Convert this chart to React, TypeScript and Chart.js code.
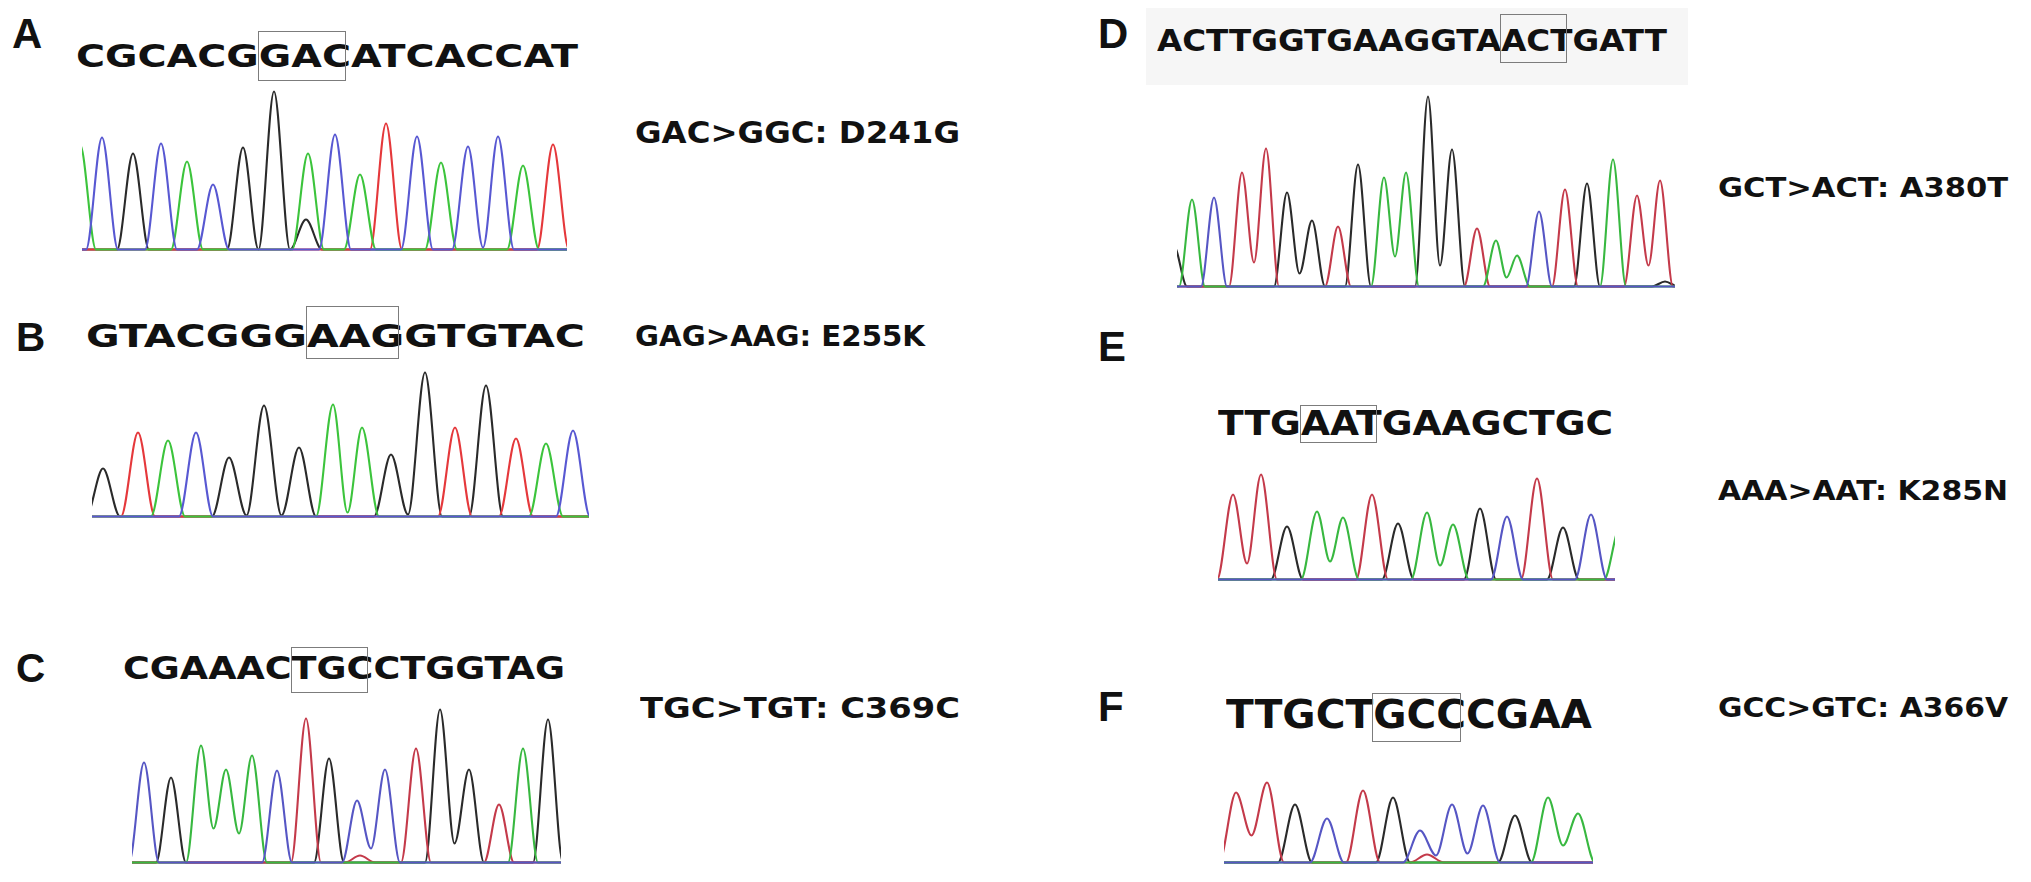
import React, { useEffect, useRef } from "react";
import { Chart, registerables } from "chart.js";

Chart.register(...registerables);

// ---------------- DATA ----------------
// scans: peak positions along the trace, heights: peak intensities,
// valleys: [peak index, valley height to the next same-base peak],
// minor: [base, scan, height] secondary / edge peaks.

// Panel A
const A_BASES = "CGCACGGACATCACCAT";
const A_SCANS = [20, 51, 79, 105, 131, 161, 192, 226, 253, 278, 304, 335, 359, 386, 416, 441, 471];
const A_HEIGHTS = [112, 96, 106, 88, 65, 102, 158, 96, 115, 75, 126, 113, 87, 103, 113, 84, 105];
const A_VALLEYS: [number, number][] = [[13, 2]];
const A_MINOR: [string, number, number][] = [["A", -2, 105], ["G", 224, 30]];
const A_SPAN = [0, 485];
const A_HALF_WIDTH = 16;
const A_BOX_START = 6;
const A_LABEL = "GAC>GGC: D241G";

// Panel B
const B_BASES = "GTACGGGAAGGTGTAC";
const B_SCANS = [11, 46, 76, 104, 137, 172, 207, 241, 270, 299, 333, 363, 394, 424, 454, 481];
const B_HEIGHTS = [48, 84, 76, 84, 59, 111, 69, 112, 89, 62, 144, 89, 131, 78, 73, 86];
const B_VALLEYS: [number, number][] = [[4, 1], [5, 1], [7, 4], [9, 2]];
const B_MINOR: [string, number, number][] = [];
const B_SPAN = [0, 497];
const B_HALF_WIDTH = 17;
const B_BOX_START = 7;
const B_LABEL = "GAG>AAG: E255K";

// Panel C
const C_BASES = "CGAAACTGCCTGGTAG";
const C_SCANS = [12, 39, 69, 94, 120, 145, 174, 197, 225, 253, 284, 308, 337, 367, 391, 416];
const C_HEIGHTS = [100, 85, 117, 93, 107, 92, 144, 104, 62, 93, 114, 153, 93, 58, 114, 143];
const C_VALLEYS: [number, number][] = [[2, 34], [3, 29], [8, 14], [11, 19]];
const C_MINOR: [string, number, number][] = [["T", 228, 7]];
const C_SPAN = [0, 429];
const C_HALF_WIDTH = 15;
const C_BOX_START = 6;
const C_LABEL = "TGC>TGT: C369C";

// Panel D
const D_BASES = "ACTTGGTGAAGGTAACTGATT";
const D_SCANS = [15, 37, 65, 89, 110, 135, 161, 181, 207, 229, 251, 275, 300, 319, 340, 362, 388, 410, 436, 460, 483];
const D_HEIGHTS = [87, 89, 114, 138, 94, 66, 60, 122, 109, 114, 190, 137, 58, 46, 31, 75, 97, 103, 127, 91, 106];
const D_VALLEYS: [number, number][] = [[2, 24], [4, 13], [8, 30], [10, 21], [13, 9], [19, 21]];
const D_MINOR: [string, number, number][] = [["G", -3, 40], ["G", 488, 5]];
const D_SPAN = [0, 498];
const D_HALF_WIDTH = 13;
const D_BOX_START = 14;
const D_LABEL = "GCT>ACT: A380T";

// Panel E
const E_BASES = "TTGAATGAAGCTGC";
const E_SCANS = [15, 43, 69, 99, 125, 154, 180, 209, 235, 262, 289, 319, 345, 373];
const E_HEIGHTS = [85, 105, 53, 68, 62, 85, 56, 67, 55, 71, 63, 101, 52, 65];
const E_VALLEYS: [number, number][] = [[0, 16], [3, 18], [7, 14]];
const E_MINOR: [string, number, number][] = [["A", 402, 52]];
const E_SPAN = [0, 397];
const E_HALF_WIDTH = 16;
const E_BOX_START = 3;
const E_LABEL = "AAA>AAT: K285N";

// Panel F
const F_BASES = "TTGCTGCCCGAA";
const F_SCANS = [12, 43, 71, 103, 139, 169, 196, 228, 259, 291, 324, 354];
const F_HEIGHTS = [70, 80, 58, 44, 72, 65, 32, 58, 57, 47, 65, 49];
const F_VALLEYS: [number, number][] = [[0, 27], [6, 7], [7, 9], [10, 17]];
const F_MINOR: [string, number, number][] = [["T", 203, 8]];
const F_SPAN = [0, 369];
const F_HALF_WIDTH = 17;
const F_BOX_START = 5;
const F_LABEL = "GCC>GTC: A366V";

// ---------------- STYLES / LAYOUT ----------------
const PALETTE_BRIGHT: Record<string, string> = { G: "#2a2a2a", C: "#5858d2", A: "#3cc43c", T: "#e5383b" };
const PALETTE_DEEP: Record<string, string> = { G: "#2a2a2a", C: "#5656c4", A: "#38b840", T: "#c43a4a" };
const CHANNEL_ORDER = ["C", "A", "T", "G"];

const SEQ_FAMILY = '"DejaVu Sans", Verdana, sans-serif';
const LETTER_FAMILY = '"Liberation Sans", Arial, sans-serif';
const DEJAVU_CAP = 0.729;
const LIB_CAP = 0.716;

type Box = { left: number; right?: number; capTop: number; baseline: number };
type Layout = {
  letter: Box;
  seq: Box & { boxTop: number; boxBottom: number };
  label: Box;
  chart: { left: number; baseline: number };
};

const LAYOUT_A: Layout = {
  letter: { left: 12, capTop: 18, baseline: 48 },
  seq: { left: 76, right: 578, capTop: 45, baseline: 68, boxTop: 31, boxBottom: 81 },
  label: { left: 635, right: 960, capTop: 122, baseline: 144 },
  chart: { left: 82, baseline: 249 },
};
const LAYOUT_B: Layout = {
  letter: { left: 16, capTop: 322, baseline: 351 },
  seq: { left: 86, right: 585, capTop: 325, baseline: 348, boxTop: 306, boxBottom: 359 },
  label: { left: 635, right: 925, capTop: 325, baseline: 346 },
  chart: { left: 92, baseline: 516 },
};
const LAYOUT_C: Layout = {
  letter: { left: 16, capTop: 653, baseline: 682 },
  seq: { left: 123, right: 565, capTop: 657, baseline: 680, boxTop: 647, boxBottom: 693 },
  label: { left: 640, right: 960, capTop: 697, baseline: 718 },
  chart: { left: 132, baseline: 862 },
};
const LAYOUT_D: Layout = {
  letter: { left: 1098, capTop: 18, baseline: 48 },
  seq: { left: 1157, right: 1667, capTop: 30, baseline: 52, boxTop: 14, boxBottom: 63 },
  label: { left: 1718, right: 2008, capTop: 177, baseline: 197 },
  chart: { left: 1177, baseline: 286 },
};
const LAYOUT_E: Layout = {
  letter: { left: 1098, capTop: 331, baseline: 361 },
  seq: { left: 1218, right: 1613, capTop: 410, baseline: 435, boxTop: 405, boxBottom: 443 },
  label: { left: 1718, right: 2008, capTop: 480, baseline: 500 },
  chart: { left: 1218, baseline: 579 },
};
const LAYOUT_F: Layout = {
  letter: { left: 1098, capTop: 691, baseline: 721 },
  seq: { left: 1226, right: 1592, capTop: 700, baseline: 729, boxTop: 693, boxBottom: 742 },
  label: { left: 1718, right: 2008, capTop: 697, baseline: 717 },
  chart: { left: 1224, baseline: 862 },
};

type Panel = {
  id: string;
  bases: string;
  scans: number[];
  heights: number[];
  valleys: [number, number][];
  minor: [string, number, number][];
  span: number[];
  hw: number;
  boxStart: number;
  label: string;
  layout: Layout;
  palette: Record<string, string>;
};

const PANELS: Panel[] = [
  { id: "A", bases: A_BASES, scans: A_SCANS, heights: A_HEIGHTS, valleys: A_VALLEYS, minor: A_MINOR, span: A_SPAN, hw: A_HALF_WIDTH, boxStart: A_BOX_START, label: A_LABEL, layout: LAYOUT_A, palette: PALETTE_BRIGHT },
  { id: "B", bases: B_BASES, scans: B_SCANS, heights: B_HEIGHTS, valleys: B_VALLEYS, minor: B_MINOR, span: B_SPAN, hw: B_HALF_WIDTH, boxStart: B_BOX_START, label: B_LABEL, layout: LAYOUT_B, palette: PALETTE_BRIGHT },
  { id: "C", bases: C_BASES, scans: C_SCANS, heights: C_HEIGHTS, valleys: C_VALLEYS, minor: C_MINOR, span: C_SPAN, hw: C_HALF_WIDTH, boxStart: C_BOX_START, label: C_LABEL, layout: LAYOUT_C, palette: PALETTE_DEEP },
  { id: "D", bases: D_BASES, scans: D_SCANS, heights: D_HEIGHTS, valleys: D_VALLEYS, minor: D_MINOR, span: D_SPAN, hw: D_HALF_WIDTH, boxStart: D_BOX_START, label: D_LABEL, layout: LAYOUT_D, palette: PALETTE_DEEP },
  { id: "E", bases: E_BASES, scans: E_SCANS, heights: E_HEIGHTS, valleys: E_VALLEYS, minor: E_MINOR, span: E_SPAN, hw: E_HALF_WIDTH, boxStart: E_BOX_START, label: E_LABEL, layout: LAYOUT_E, palette: PALETTE_DEEP },
  { id: "F", bases: F_BASES, scans: F_SCANS, heights: F_HEIGHTS, valleys: F_VALLEYS, minor: F_MINOR, span: F_SPAN, hw: F_HALF_WIDTH, boxStart: F_BOX_START, label: F_LABEL, layout: LAYOUT_F, palette: PALETTE_DEEP },
];

const Y_MIN = -1.5;
const Y_HEADROOM = 8;

// ---------------- helpers ----------------
let measureCtx: CanvasRenderingContext2D | null = null;
function measure(text: string, font: string): number {
  if (!measureCtx) measureCtx = document.createElement("canvas").getContext("2d");
  measureCtx!.font = font;
  return measureCtx!.measureText(text).width;
}

function buildChannel(p: Panel, ch: string) {
  const vmap = new Map<number, number>(p.valleys);
  const peaks: { s: number; h: number; i: number }[] = [];
  p.bases.split("").forEach((b, i) => {
    if (b === ch) peaks.push({ s: p.scans[i], h: p.heights[i], i });
  });
  p.minor.forEach(([b, s, h]) => {
    if (b === ch) peaks.push({ s, h, i: -1 });
  });
  peaks.sort((a, b) => a.s - b.s);
  const w = p.hw;
  const join = 2.2 * w;
  const pts: { x: number; y: number }[] = [];
  const push = (x: number, y: number) => {
    if (pts.length === 0 || x > pts[pts.length - 1].x) pts.push({ x, y });
  };
  push(p.span[0] - 3 * w, 0);
  peaks.forEach((pk, k) => {
    const prev = peaks[k - 1];
    const next = peaks[k + 1];
    if (!(prev && pk.s - prev.s <= join)) push(pk.s - w, 0);
    push(pk.s, pk.h);
    if (next && next.s - pk.s <= join) {
      const v = pk.i >= 0 && next.i === pk.i + 1 && vmap.has(pk.i) ? (vmap.get(pk.i) as number) : 0;
      push((pk.s + next.s) / 2, v);
    } else {
      push(pk.s + w, 0);
    }
  });
  push(p.span[1] + 3 * w, 0);
  return pts;
}

function Trace({ p }: { p: Panel }) {
  const ref = useRef<HTMLCanvasElement>(null);
  const maxH = Math.max(...p.heights, ...p.minor.map((m) => m[2]));
  const yMax = maxH + Y_HEADROOM;
  const width = p.span[1] - p.span[0];
  const height = Math.round(yMax - Y_MIN);
  useEffect(() => {
    if (!ref.current) return;
    const datasets = CHANNEL_ORDER.map((ch) => ({
      label: ch,
      data: buildChannel(p, ch),
      borderColor: p.palette[ch],
      backgroundColor: p.palette[ch],
      borderWidth: 2.1,
      pointRadius: 0,
      fill: false,
      cubicInterpolationMode: "monotone" as const,
    }));
    const chart = new Chart(ref.current, {
      type: "line",
      data: { datasets },
      options: {
        animation: false,
        responsive: false,
        devicePixelRatio: 1,
        events: [],
        layout: { padding: 0 },
        plugins: { legend: { display: false }, tooltip: { enabled: false }, title: { display: false } },
        scales: {
          x: { type: "linear", min: p.span[0], max: p.span[1], display: false },
          y: { type: "linear", min: Y_MIN, max: Y_MIN + height, display: false },
        },
        elements: { point: { radius: 0 } },
      },
    });
    return () => chart.destroy();
  }, []);
  return (
    <canvas
      ref={ref}
      width={width}
      height={height}
      style={{ position: "absolute", left: p.layout.chart.left, top: p.layout.chart.baseline - (Y_MIN + height), width, height }}
    />
  );
}

function FitText({ text, box, family, capRatio }: { text: string; box: Box; family: string; capRatio: number }) {
  const fs = (box.baseline - box.capTop) / capRatio;
  const font = `bold ${fs}px ${family}`;
  const k = box.right != null ? (box.right - box.left) / measure(text, font) : 1;
  return (
    <div
      style={{
        position: "absolute",
        left: box.left,
        top: box.baseline - 0.846 * fs,
        fontFamily: family,
        fontWeight: "bold",
        fontSize: fs,
        lineHeight: `${fs}px`,
        whiteSpace: "pre",
        color: "#111",
        transform: `scaleX(${k})`,
        transformOrigin: "0 0",
      }}
    >
      {text}
    </div>
  );
}

function Sequence({ p }: { p: Panel }) {
  const s = p.layout.seq;
  const fs = (s.baseline - s.capTop) / DEJAVU_CAP;
  const font = `bold ${fs}px ${SEQ_FAMILY}`;
  const k = (s.right! - s.left) / measure(p.bases, font);
  const pre = measure(p.bases.slice(0, p.boxStart), font) * k;
  const upto = measure(p.bases.slice(0, p.boxStart + 3), font) * k;
  const bl = s.left + pre - 1;
  const br = s.left + upto - 5;
  return (
    <>
      <FitText text={p.bases} box={s} family={SEQ_FAMILY} capRatio={DEJAVU_CAP} />
      <div
        style={{
          position: "absolute",
          left: bl,
          top: s.boxTop,
          width: br - bl,
          height: s.boxBottom - s.boxTop,
          border: "1.5px solid #7c7c7c",
          boxSizing: "border-box",
        }}
      />
    </>
  );
}

export default function App() {
  useEffect(() => {
    document.body.style.margin = "0";
    document.body.style.background = "#ffffff";
  }, []);
  return (
    <div style={{ position: "absolute", left: 0, top: 0, width: 2031, height: 882, background: "#fff", overflow: "hidden" }}>
      <div style={{ position: "absolute", left: 1146, top: 8, width: 542, height: 77, background: "#f6f6f6" }} />
      {PANELS.map((p) => (
        <React.Fragment key={p.id}>
          <FitText text={p.id} box={p.layout.letter} family={LETTER_FAMILY} capRatio={LIB_CAP} />
          <Sequence p={p} />
          <Trace p={p} />
          <FitText text={p.label} box={p.layout.label} family={SEQ_FAMILY} capRatio={DEJAVU_CAP} />
        </React.Fragment>
      ))}
    </div>
  );
}
